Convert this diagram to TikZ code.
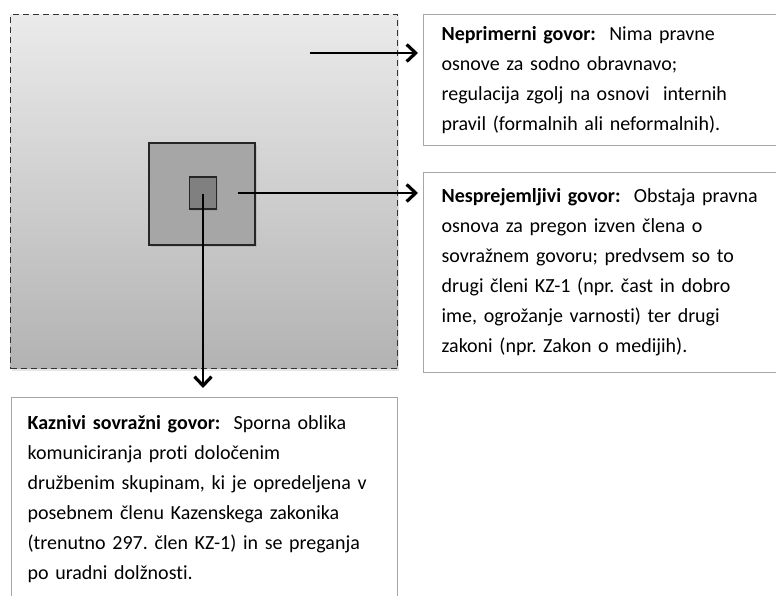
\documentclass[tikz,border=0pt]{standalone}
\usepackage{fontspec}
\setmainfont[Ligatures=NoCommon]{Carlito}
\frenchspacing
\usetikzlibrary{arrows.meta,shadows}
\begin{document}
\begin{tikzpicture}[x=1pt,y=-1pt,
        square/.style={draw=black!85,line width=1.2pt,inner sep=0pt,
          drop shadow={opacity=0.25,shadow xshift=1.5pt,shadow yshift=-2pt}},
        infobox/.style={draw=black!35,line width=1.2pt,anchor=north west,
          align=left,inner xsep=18pt,inner ysep=0pt,text=black,
          font=\fontsize{20}{30}\selectfont},
        pointer/.style={line width=2pt,
          -{Straight Barb[length=9pt,width=17pt,line width=3.2pt]}}]
  \useasboundingbox (0,0) rectangle (776,596);
  \node[draw=black!80,dash pattern=on 6pt off 4pt,line width=1.2pt,anchor=north west,
    minimum width=387pt,minimum height=354pt,top color=gray!16,bottom color=gray!60,
    drop shadow={opacity=0.2,shadow xshift=1.5pt,shadow yshift=-2pt}] (outer) at (10,14) {};
  \node[square,fill=black!35,minimum width=106pt,minimum height=102pt] (middle) at (202,194) {};
  \node[square,fill=black!50,minimum width=27pt,minimum height=32pt] (inner) at (203,193) {};
  \node[infobox,text width=360pt,minimum height=131pt] (neprim) at (423,14)
    {\textbf{Neprimerni govor:}\ \ Nima pravne\\
     osnove za sodno obravnavo;\\
     regulacija zgolj na osnovi\ \ internih\\
     pravil (formalnih ali neformalnih).};
  \node[infobox,text width=360pt,minimum height=200pt] (nespr) at (423,172)
    {\textbf{Nesprejemljivi govor:}\ \ Obstaja pravna\\
     osnova za pregon izven člena o\\
     sovražnem govoru; predvsem so to\\
     drugi členi KZ-1 (npr. čast in dobro\\
     ime, ogrožanje varnosti) ter drugi\\
     zakoni (npr. Zakon o medijih).};
  \node[infobox,inner xsep=16pt,text width=354pt,minimum height=202pt] (kazn) at (11,397)
    {\textbf{Kaznivi sovražni govor:}\ \ Sporna oblika\\
     komuniciranja proti določenim\\
     družbenim skupinam, ki je opredeljena v\\
     posebnem členu Kazenskega zakonika\\
     (trenutno 297. člen KZ-1) in se preganja\\
     po uradni dolžnosti.};
  \coordinate (from1) at (310,53);
  \coordinate (from2) at (238,193);
  \draw[pointer,shorten >=5pt] (from1) -- (from1 -| neprim.west);
  \draw[pointer,shorten >=5pt] (from2) -- (from2 -| nespr.west);
  \draw[pointer,shorten >=9pt] ([yshift=-1pt]inner.center) -- (inner.center |- kazn.north);
\end{tikzpicture}
\end{document}
